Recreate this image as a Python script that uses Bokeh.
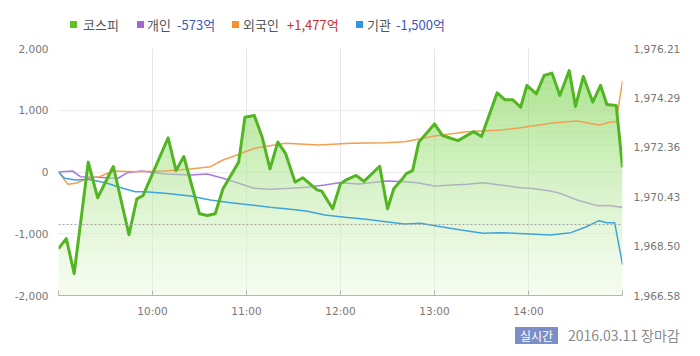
import numpy as np
from bokeh.plotting import figure
from bokeh.layouts import column
from bokeh.models import Range1d, LinearAxis, FixedTicker, NumeralTickFormatter, Span, Div
from bokeh.embed import file_html
from bokeh.resources import INLINE

# ---- data (time = minutes after 09:00) ----
kospi_t = [0, 5, 10, 19, 25, 35, 45, 50, 54, 70, 75, 80, 90, 95, 100, 105, 115, 119, 125, 130,
           135, 140, 145, 151, 156, 165, 168, 175, 180, 184, 190, 195, 205, 210, 214, 219, 222, 226, 230, 240,
           245, 255, 265, 270, 280, 285, 290, 295, 299, 305, 310, 315, 320, 326, 330, 335, 341, 346, 350, 356, 360]
kospi_v = [1968.41, 1968.80, 1967.44, 1971.78, 1970.39, 1971.61, 1968.95, 1970.35, 1970.48, 1972.73,
           1971.45, 1972.00, 1969.77, 1969.70, 1969.77, 1970.74, 1971.78, 1973.53, 1973.60, 1972.75,
           1971.52, 1972.56, 1972.11, 1971.00, 1971.17, 1970.70, 1970.65, 1969.96, 1970.94, 1971.10,
           1971.26, 1971.03, 1971.62, 1969.96, 1970.74, 1971.09, 1971.33, 1971.45, 1972.56, 1973.27,
           1972.82, 1972.62, 1972.97, 1972.78, 1974.48, 1974.21, 1974.21, 1973.92, 1974.77, 1974.44,
           1975.16, 1975.25, 1974.38, 1975.35, 1973.95, 1975.12, 1974.12, 1974.77, 1974.03, 1973.99, 1971.58]

indiv_t = [0, 9, 14, 24, 38, 44, 53, 68, 84, 95, 105, 114, 125, 135, 148, 158, 170, 179, 192, 209,
           221, 229, 240, 261, 271, 282, 295, 301, 314, 320, 331, 344, 352, 360]
indiv_v = [0, 16, -76, -86, -102, -11, 16, -32, -49, -32, -102, -173, -264, -280, -264, -248, -211, -173, -194, -146,
           -157, -173, -227, -199, -173, -211, -254, -264, -308, -345, -453, -545, -545, -573]

foreign_t = [0, 6, 11, 19, 26, 35, 49, 68, 84, 97, 105, 114, 125, 135, 145, 166, 187, 209, 221, 240,
             261, 282, 295, 314, 331, 345, 352, 356, 360]
foreign_v = [0, -199, -183, -102, -76, 16, 5, 16, 49, 86, 194, 275, 384, 426, 465, 437, 465, 475, 491, 583,
             653, 680, 715, 789, 826, 761, 805, 815, 1477]

inst_t = [0, 4, 11, 19, 30, 41, 49, 55, 68, 84, 97, 110, 123, 135, 148, 158, 170, 183, 196, 209,
          221, 231, 244, 257, 271, 282, 301, 314, 327, 337, 345, 350, 355, 360]
inst_v = [0, -102, -130, -118, -173, -264, -319, -319, -345, -389, -453, -497, -534, -572, -604, -632, -696, -734, -766, -805,
          -842, -831, -886, -939, -993, -982, -1004, -1020, -982, -886, -788, -821, -821, -1500]

prev_close = 1969.35

time_ticks = [0, 60, 120, 180, 240, 300, 360]
time_labels = ["", "10:00", "11:00", "12:00", "13:00", "14:00", ""]
left_ticks = [-2000, -1000, 0, 1000, 2000]
right_ticks = [1966.58, 1968.50, 1970.43, 1972.36, 1974.29, 1976.21]
right_labels = ["1,966.58", "1,968.50", "1,970.43", "1,972.36", "1,974.29", "1,976.21"]

legend_names = ["코스피", "개인", "외국인", "기관"]
legend_values = ["", "-573억", "+1,477억", "-1,500억"]
legend_colors = ["#5cc21e", "#a066d6", "#f3922e", "#2d98e2"]
value_colors = ["#000000", "#3d56b8", "#cc2e2e", "#3d56b8"]
badge_text = "실시간"
date_text = "2016.03.11 장마감"

# ---- sizes ----
W = 700
TOP_H, FIG_H, BOT_H = 40, 280, 36
L, R, T, B = 58, 78, 8, 25

p = figure(width=W, height=FIG_H, output_backend="svg", toolbar_location=None,
           x_range=Range1d(0, 360), y_range=Range1d(-2000, 2000),
           min_border_left=L, min_border_right=R, min_border_top=T, min_border_bottom=B)
p.outline_line_color = None
p.background_fill_color = "white"
p.border_fill_color = "white"
p.extra_y_ranges = {"kospi": Range1d(right_ticks[0], right_ticks[-1])}

tick_font = "DejaVu Sans"
xa = p.xaxis[0]
xa.ticker = FixedTicker(ticks=time_ticks)
xa.major_label_overrides = {t: s for t, s in zip(time_ticks, time_labels)}
xa.axis_line_color = "#b4b4b4"
xa.major_tick_line_color = "#b4b4b4"
xa.major_tick_in = 5
xa.major_tick_out = 0
xa.minor_tick_line_color = None
xa.major_label_standoff = 9
xa.major_label_text_font = tick_font
xa.major_label_text_font_size = "10.5px"
xa.major_label_text_color = "#777777"

ya = p.yaxis[0]
ya.ticker = FixedTicker(ticks=left_ticks)
ya.formatter = NumeralTickFormatter(format="0,0")
ya.axis_line_color = None
ya.major_tick_line_color = None
ya.minor_tick_line_color = None
ya.major_tick_out = 0
ya.major_label_standoff = 10
ya.major_label_text_font = tick_font
ya.major_label_text_font_size = "10.5px"
ya.major_label_text_color = "#777777"

ra = LinearAxis(y_range_name="kospi")
ra.ticker = FixedTicker(ticks=right_ticks)
ra.major_label_overrides = {t: s for t, s in zip(right_ticks, right_labels)}
ra.axis_line_color = None
ra.major_tick_line_color = None
ra.minor_tick_line_color = None
ra.major_tick_out = 0
ra.major_label_standoff = 11
ra.major_label_text_font = tick_font
ra.major_label_text_font_size = "10.5px"
ra.major_label_text_color = "#777777"
p.add_layout(ra, "right")

p.xgrid.ticker = FixedTicker(ticks=time_ticks[1:-1])
p.xgrid.grid_line_color = "#e6e6e6"
p.ygrid.grid_line_color = "#ececec"

# individual line sits under the translucent fill
p.line(indiv_t, indiv_v, line_color="#a57be0", line_width=1.6)

# gradient fill under KOSPI line, built from stacked bands
kt = np.array(kospi_t, dtype=float)
kv = np.array(kospi_v, dtype=float)
lo, hi = right_ticks[0], right_ticks[-1]
N = 40
levels = np.linspace(lo, hi, N + 1)
xs = list(kt)
for lev in levels:
    a = kv[:-1] - lev
    b = kv[1:] - lev
    m = a * b < 0
    xs.extend(list(kt[:-1][m] + (kt[1:][m] - kt[:-1][m]) * a[m] / (a[m] - b[m])))
xs = np.unique(np.array(xs))
vs = np.interp(xs, kt, kv)
top_c = np.array([88, 200, 30])
bot_c = np.array([238, 250, 228])
for k in range(N):
    f = ((k + 0.5) / N) ** 1.2
    c = bot_c + f * (top_c - bot_c)
    col = "#%02x%02x%02x" % tuple(int(round(x)) for x in c)
    y2 = np.clip(vs, levels[k], levels[k + 1])
    p.varea(x=xs, y1=np.full_like(xs, levels[k]), y2=y2, fill_color=col, fill_alpha=0.55,
            y_range_name="kospi")

p.add_layout(Span(location=prev_close, dimension="width", y_range_name="kospi",
                  line_color="#a0a0a0", line_dash="2 2", line_width=1))

p.line(foreign_t, foreign_v, line_color="#f0a050", line_width=1.5)
p.line(inst_t, inst_v, line_color="#40a4dc", line_width=1.5)
p.line(kospi_t, kospi_v, line_color="#52b522", line_width=3, y_range_name="kospi", line_join="round")

# ---- legend row (HTML) ----
kfont = "'Noto Sans CJK KR', sans-serif"
sq_x = [70, 137, 232, 356]
name_x = [83, 147, 243, 367]
val_x = [0, 177, 287, 396]
parts = []
for i in range(4):
    parts.append('<span style="position:absolute;left:%dpx;top:21px;width:7px;height:7px;background:%s"></span>'
                 % (sq_x[i], legend_colors[i]))
    parts.append('<span style="position:absolute;left:%dpx;top:15px;line-height:20px;color:#555;white-space:nowrap">%s</span>'
                 % (name_x[i], legend_names[i]))
    if legend_values[i]:
        parts.append('<span style="position:absolute;left:%dpx;top:15px;line-height:20px;color:%s;white-space:nowrap">%s</span>'
                     % (val_x[i], value_colors[i], legend_values[i]))
top_div = Div(text='<div style="position:relative;width:%dpx;height:%dpx;font-family:%s;font-size:13px">%s</div>'
              % (W, TOP_H, kfont, "".join(parts)),
              width=W, height=TOP_H, margin=0)

bot_div = Div(text=('<div style="position:relative;width:%dpx;height:%dpx;font-family:%s">'
                    '<span style="position:absolute;left:515px;top:7px;width:43px;height:17px;line-height:17px;'
                    'background:#7b8ec7;color:#fff;font-size:12px;text-align:center">%s</span>'
                    '<span style="position:absolute;left:568px;top:5px;line-height:20px;color:#8a8a8a;'
                    'font-size:14px;white-space:nowrap">%s</span></div>') % (W, BOT_H, kfont, badge_text, date_text),
              width=W, height=BOT_H, margin=0)

layout = column(top_div, p, bot_div, spacing=0)
open("out.html", "w").write(file_html(layout, INLINE))
